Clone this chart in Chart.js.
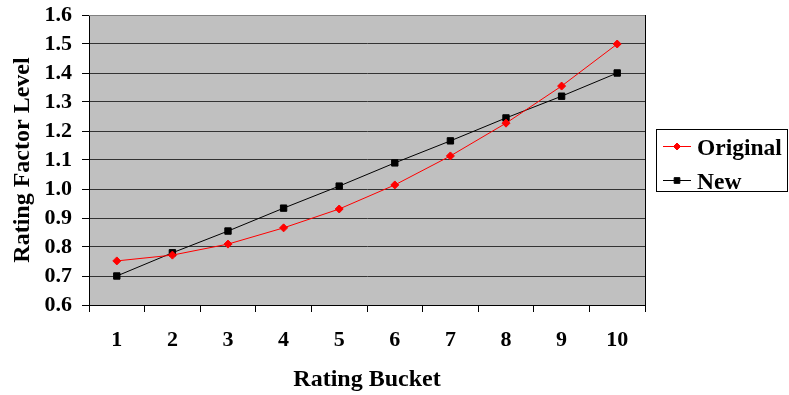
<!DOCTYPE html>
<html>
<head>
<meta charset="utf-8">
<script src="https://cdn.jsdelivr.net/npm/chart.js@4/dist/chart.umd.min.js"></script>
<style>
  html, body { margin: 0; padding: 0; background: #ffffff; }
  #wrap { width: 789px; height: 395px; position: relative; }
</style>
</head>
<body>
<div id="wrap"><canvas id="chart" width="789" height="395"></canvas></div>
<script>
// Rating buckets and factor levels
const buckets = ['1', '2', '3', '4', '5', '6', '7', '8', '9', '10'];
const originalLevels = [0.752, 0.772, 0.81, 0.866, 0.931, 1.014, 1.114, 1.227, 1.355, 1.50];
const newLevels = [0.70, 0.78, 0.855, 0.934, 1.01, 1.09, 1.166, 1.245, 1.32, 1.40];
const yTicks = [0.6, 0.7, 0.8, 0.9, 1.0, 1.1, 1.2, 1.3, 1.4, 1.5, 1.6];

const SERIF = '"Liberation Serif", "Times New Roman", serif';

// Grey plot background plus the frame on the top and right edges
const plotFrame = {
  id: 'plotFrame',
  beforeDraw(chart) {
    const { ctx, chartArea: a } = chart;
    ctx.save();
    ctx.fillStyle = '#c0c0c0';
    ctx.fillRect(a.left, a.top, a.right - a.left, a.bottom - a.top);
    ctx.restore();
  },
  afterDatasetsDraw(chart) {
    const { ctx, chartArea: a } = chart;
    ctx.save();
    ctx.lineWidth = 1;
    ctx.strokeStyle = '#808080';
    ctx.beginPath();
    ctx.moveTo(a.left, a.top + 0.5);
    ctx.lineTo(a.right, a.top + 0.5);
    ctx.stroke();
    ctx.strokeStyle = '#000000';
    ctx.beginPath();
    ctx.moveTo(a.right + 0.5, a.top);
    ctx.lineTo(a.right + 0.5, a.bottom);
    ctx.stroke();
    ctx.restore();
  }
};

// Boxed legend with a line-and-marker sample for each series
const boxedLegend = {
  id: 'boxedLegend',
  afterDraw(chart) {
    const { ctx } = chart;
    const box = { x: 656.5, y: 129.5, w: 131, h: 62 };
    ctx.save();
    ctx.fillStyle = '#ffffff';
    ctx.fillRect(box.x, box.y, box.w, box.h);
    ctx.strokeStyle = '#000000';
    ctx.lineWidth = 1;
    ctx.strokeRect(box.x, box.y, box.w, box.h);
    const rows = [146, 180];
    chart.data.datasets.forEach((ds, i) => {
      const y = rows[i];
      ctx.strokeStyle = ds.borderColor;
      ctx.lineWidth = 1;
      ctx.beginPath();
      ctx.moveTo(663, y + 0.5);
      ctx.lineTo(691, y + 0.5);
      ctx.stroke();
      ctx.fillStyle = ds.pointBackgroundColor;
      ctx.strokeStyle = ds.pointBorderColor;
      Chart.helpers.drawPoint(ctx, {
        pointStyle: ds.pointStyle,
        radius: ds.pointRadius - 0.5,
        borderWidth: 1,
        rotation: 0
      }, 677, y + 0.5);
      ctx.fillStyle = '#000000';
      ctx.font = 'bold 23.5px ' + SERIF;
      ctx.textAlign = 'left';
      ctx.textBaseline = 'alphabetic';
      ctx.fillText(ds.label, 697, y + 9);
    });
    ctx.restore();
  }
};

new Chart(document.getElementById('chart'), {
  type: 'line',
  data: {
    labels: buckets,
    datasets: [
      {
        label: 'Original',
        data: originalLevels,
        borderColor: '#ff0000',
        backgroundColor: '#ff0000',
        borderWidth: 1,
        pointStyle: 'rectRot',
        pointRadius: 4,
        pointBackgroundColor: '#ff0000',
        pointBorderColor: '#ff0000',
        pointBorderWidth: 1,
        tension: 0
      },
      {
        label: 'New',
        data: newLevels,
        borderColor: '#000000',
        backgroundColor: '#000000',
        borderWidth: 1,
        pointStyle: 'rect',
        pointRadius: 4.5,
        pointBackgroundColor: '#000000',
        pointBorderColor: '#000000',
        pointBorderWidth: 1,
        tension: 0
      }
    ]
  },
  options: {
    responsive: false,
    animation: false,
    devicePixelRatio: 1,
    layout: { padding: { top: 15, right: 144, bottom: 0, left: 0 } },
    plugins: {
      legend: { display: false },
      tooltip: { enabled: false }
    },
    scales: {
      x: {
        type: 'category',
        offset: true,
        afterFit(scale) {
          scale.height = 90;
          scale.paddingLeft = 0;
          scale.paddingRight = 0;
        },
        grid: {
          offset: true,
          drawOnChartArea: false,
          drawTicks: true,
          tickLength: 7,
          color: '#000000',
          lineWidth: 1
        },
        border: { display: true, color: '#000000', width: 1 },
        ticks: {
          color: '#000000',
          padding: 15,
          autoSkip: false,
          maxRotation: 0,
          font: { family: SERIF, size: 22, weight: 'bold' }
        },
        title: {
          display: true,
          text: 'Rating Bucket',
          color: '#000000',
          padding: { top: 0, bottom: 1 },
          font: { family: SERIF, size: 24, weight: 'bold' }
        }
      },
      y: {
        min: yTicks[0],
        max: yTicks[yTicks.length - 1],
        afterFit(scale) {
          scale.width = 89;
          scale.paddingTop = 0;
          scale.paddingBottom = 0;
        },
        afterBuildTicks(scale) { scale.ticks = yTicks.map(v => ({ value: v })); },
        grid: {
          drawTicks: true,
          tickLength: 7,
          color: (c) => (c.tick && Math.abs(c.tick.value - 1.6) < 1e-9) ? '#808080' : '#333333',
          tickColor: '#000000',
          lineWidth: 1
        },
        border: { display: true, color: '#000000', width: 1 },
        ticks: {
          color: '#000000',
          padding: 10,
          autoSkip: false,
          callback: (v) => Number(v).toFixed(1),
          font: { family: SERIF, size: 22, weight: 'bold' }
        },
        title: {
          display: true,
          text: 'Rating Factor Level',
          color: '#000000',
          padding: { top: 8, bottom: 0 },
          font: { family: SERIF, size: 24, weight: 'bold' }
        }
      }
    }
  },
  plugins: [plotFrame, boxedLegend]
});
</script>
</body>
</html>
